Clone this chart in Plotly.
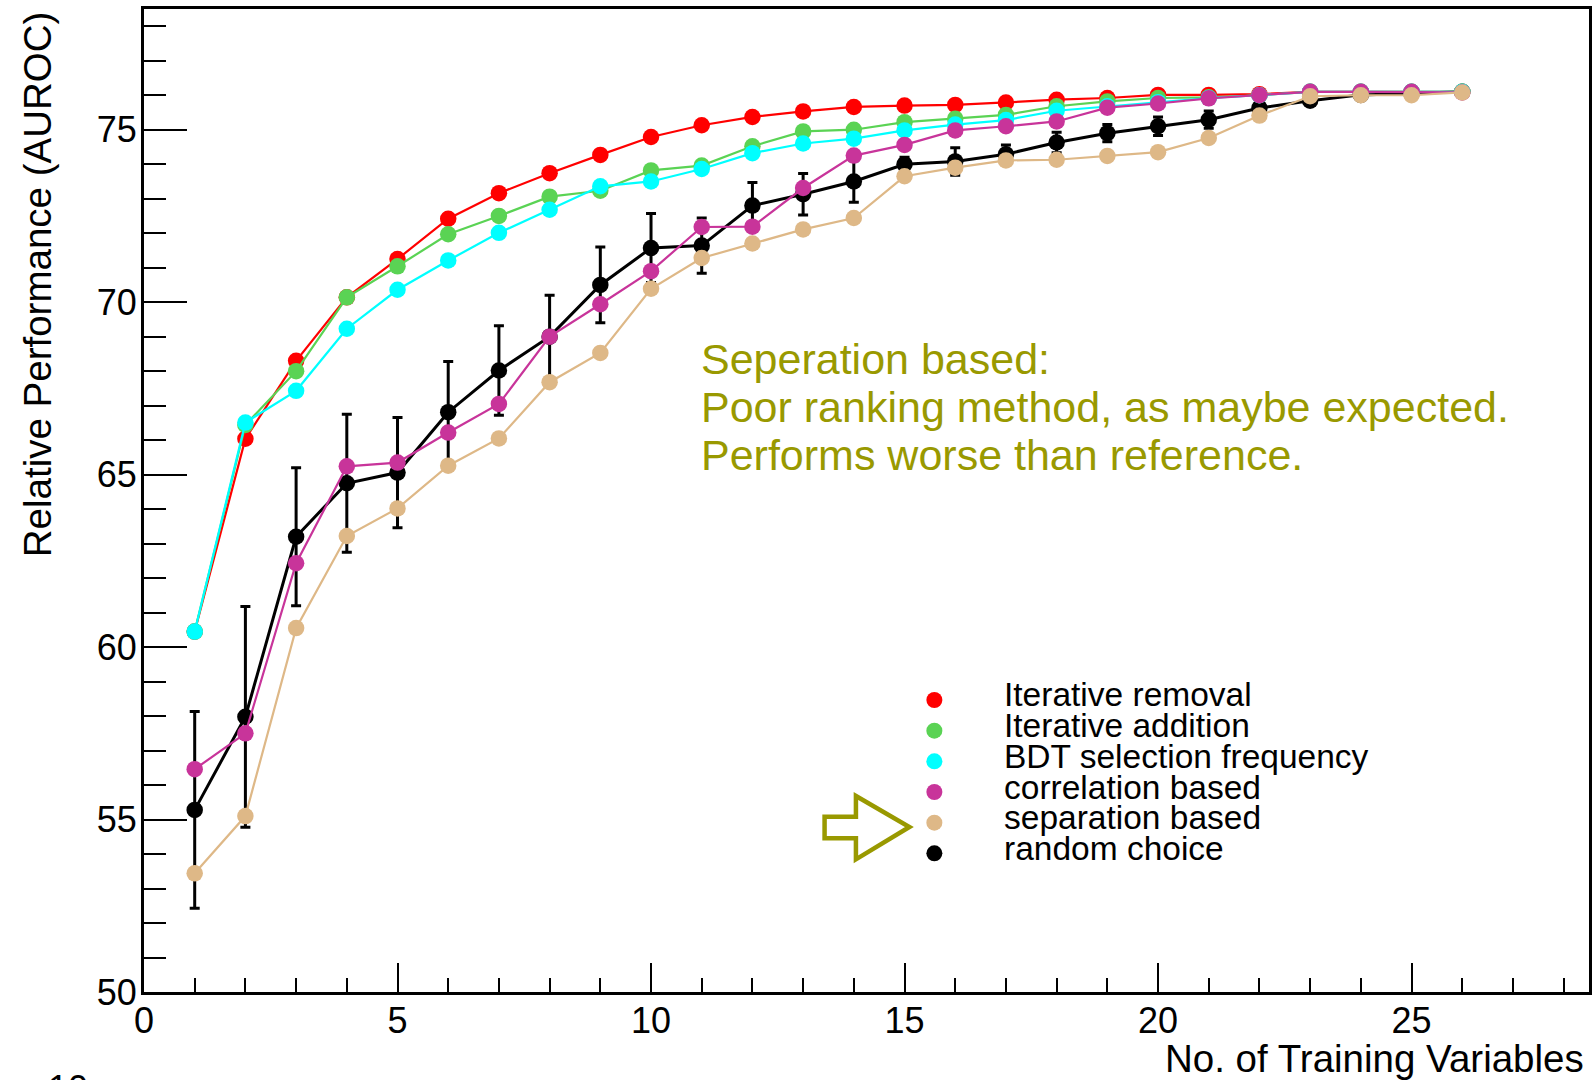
import plotly.graph_objects as go

# Number of training variables used
n_vars = list(range(1, 27))

# Relative performance (AUROC, %) per ranking method
iterative_removal = [60.45, 66.04, 68.30, 70.14, 71.25, 72.42, 73.16, 73.74, 74.27, 74.79,
                     75.13, 75.37, 75.53, 75.66, 75.70, 75.72, 75.79, 75.87, 75.92, 76.01,
                     76.01, 76.03, 76.10, 76.10, 76.10, 76.10]
iterative_addition = [60.45, 66.44, 68.00, 70.14, 71.04, 71.97, 72.50, 73.06, 73.23, 73.82,
                      73.96, 74.52, 74.95, 75.00, 75.22, 75.32, 75.43, 75.68, 75.82, 75.92,
                      75.94, 76.00, 76.10, 76.10, 76.10, 76.10]
bdt_frequency = [60.45, 66.51, 67.43, 69.23, 70.36, 71.21, 72.01, 72.68, 73.36, 73.50,
                 73.86, 74.32, 74.60, 74.74, 74.98, 75.15, 75.28, 75.55, 75.68, 75.80,
                 75.92, 76.00, 76.10, 76.10, 76.10, 76.10]
correlation_based = [56.46, 57.50, 62.43, 65.24, 65.35, 66.22, 67.05, 69.00, 69.94, 70.90,
                     72.18, 72.19, 73.31, 74.25, 74.56, 74.98, 75.10, 75.24, 75.64, 75.76,
                     75.91, 76.00, 76.10, 76.10, 76.10, 76.08]
separation_based = [53.44, 55.10, 60.55, 63.22, 64.02, 65.26, 66.05, 67.68, 68.53, 70.39,
                    71.28, 71.70, 72.11, 72.44, 73.65, 73.90, 74.11, 74.13, 74.24, 74.35,
                    74.76, 75.41, 75.97, 76.00, 76.00, 76.08]
random_choice = [55.28, 57.98, 63.20, 64.75, 65.06, 66.81, 68.02, 69.00, 70.50, 71.57,
                 71.64, 72.80, 73.13, 73.50, 74.00, 74.08, 74.29, 74.63, 74.90, 75.10,
                 75.29, 75.63, 75.84, 76.01, 76.05, 76.10]
random_choice_err = [2.85, 3.20, 2.00, 2.00, 1.60, 1.47, 1.30, 1.20, 1.10, 1.00,
                     0.80, 0.67, 0.60, 0.60, 0.20, 0.40, 0.27, 0.30, 0.25, 0.27,
                     0.25, 0.15, 0.10, 0.05, 0.05, 0.00]

legend_labels = ["Iterative removal", "Iterative addition", "BDT selection frequency",
                 "correlation based", "separation based", "random choice"]
colors = ["#ff0000", "#5ad354", "#00ffff", "#c8349a", "#deb887", "#000000"]

note_lines = ["Seperation based:",
              "Poor ranking method, as maybe expected.",
              "Performs worse than reference."]

FONT = "Liberation Sans, Arial, Helvetica, sans-serif"
OLIVE = "#999900"

# pixel geometry of the plotting frame
W, H = 1596, 1080
L, R, T, B = 144, 1592, 9, 992


def px_x(x):
    return (x - L) / (R - L)


def px_y(y):
    return (B - y) / (B - T)


fig = go.Figure()

# random choice is drawn first so the other markers sit on top of its error bars
fig.add_trace(go.Scatter(
    x=n_vars, y=random_choice, mode="lines+markers",
    line=dict(color=colors[5], width=3),
    marker=dict(color=colors[5], size=16.5),
    error_y=dict(type="data", array=random_choice_err, visible=True,
                 color="#000000", thickness=3, width=5),
    showlegend=False,
))

series = [iterative_removal, iterative_addition, bdt_frequency,
          correlation_based, separation_based]
for vals, col in zip(series, colors[:5]):
    fig.add_trace(go.Scatter(
        x=n_vars, y=vals, mode="lines+markers",
        line=dict(color=col, width=2.2),
        marker=dict(color=col, size=16.5),
        showlegend=False,
    ))

annotations = []
shapes = []

# hand-built legend: coloured dots and labels
for i, (lab, col) in enumerate(zip(legend_labels, colors)):
    my = 700 + i * 30.67
    shapes.append(dict(
        type="circle", xref="paper", yref="paper",
        xsizemode="pixel", ysizemode="pixel",
        xanchor=px_x(936), yanchor=px_y(my),
        x0=-8, x1=8, y0=-8, y1=8,
        fillcolor=col, line=dict(width=0),
    ))
    annotations.append(dict(
        text=lab, xref="paper", yref="paper",
        x=px_x(1004), y=px_y(my - 5), xanchor="left", yanchor="middle",
        showarrow=False, font=dict(family=FONT, size=33.5, color="#000000"),
    ))

# hollow arrow pointing at the separation-based entry
arrow_pts = [(826, 816.7), (857.4, 816.7), (857.4, 796), (911, 827),
             (857.4, 859.3), (857.4, 838.3), (826, 838.3)]
path = "M " + " L ".join(f"{px_x(x):.5f},{px_y(y):.5f}" for x, y in arrow_pts) + " Z"
shapes.append(dict(type="path", xref="paper", yref="paper", path=path,
                   line=dict(color=OLIVE, width=4.5), fillcolor="rgba(0,0,0,0)"))

# comment text
for line, yc in zip(note_lines, [358.5, 406.5, 455.0]):
    annotations.append(dict(
        text=line, xref="paper", yref="paper",
        x=px_x(700), y=px_y(yc), xanchor="left", yanchor="middle",
        showarrow=False, font=dict(family=FONT, size=43, color=OLIVE),
    ))

# axis titles
annotations.append(dict(
    text="No. of Training Variables", xref="paper", yref="paper",
    x=px_x(1589), y=px_y(1058.8), xanchor="right", yanchor="middle",
    showarrow=False, font=dict(family=FONT, size=38.5, color="#000000"),
))
annotations.append(dict(
    text="Relative Performance (AUROC)", xref="paper", yref="paper",
    x=px_x(37), y=1.0, xanchor="center", yanchor="top", textangle=-90,
    showarrow=False, font=dict(family=FONT, size=38.5, color="#000000"),
))
# exponent label at the lower edge
annotations.append(dict(
    text="10", xref="paper", yref="paper",
    x=px_x(46), y=px_y(1088.5), xanchor="left", yanchor="middle",
    showarrow=False, font=dict(family=FONT, size=36, color="#000000"),
))

axis_common = dict(
    showgrid=False, zeroline=False, showline=True, linecolor="#000000",
    linewidth=3, mirror=True, ticks="inside", tickcolor="#000000", tickwidth=2,
    tickfont=dict(family=FONT, size=36, color="#000000"),
)

fig.update_layout(
    width=W, height=H,
    margin=dict(l=L, r=W - R, t=T, b=H - B, pad=0),
    paper_bgcolor="#ffffff", plot_bgcolor="#ffffff",
    xaxis=dict(range=[0, 28.5], dtick=5, tick0=0, ticklen=29,
               minor=dict(ticks="inside", dtick=1, ticklen=14, tickwidth=2,
                          tickcolor="#000000", showgrid=False),
               ticklabelstandoff=-5, **axis_common),
    yaxis=dict(range=[50, 78.5], dtick=5, tick0=50, ticklen=43,
               minor=dict(ticks="inside", dtick=1, ticklen=22, tickwidth=2,
                          tickcolor="#000000", showgrid=False),
               ticklabelstandoff=-3, **axis_common),
    annotations=annotations,
    shapes=shapes,
    showlegend=False,
)

fig.write_html("out.html")
